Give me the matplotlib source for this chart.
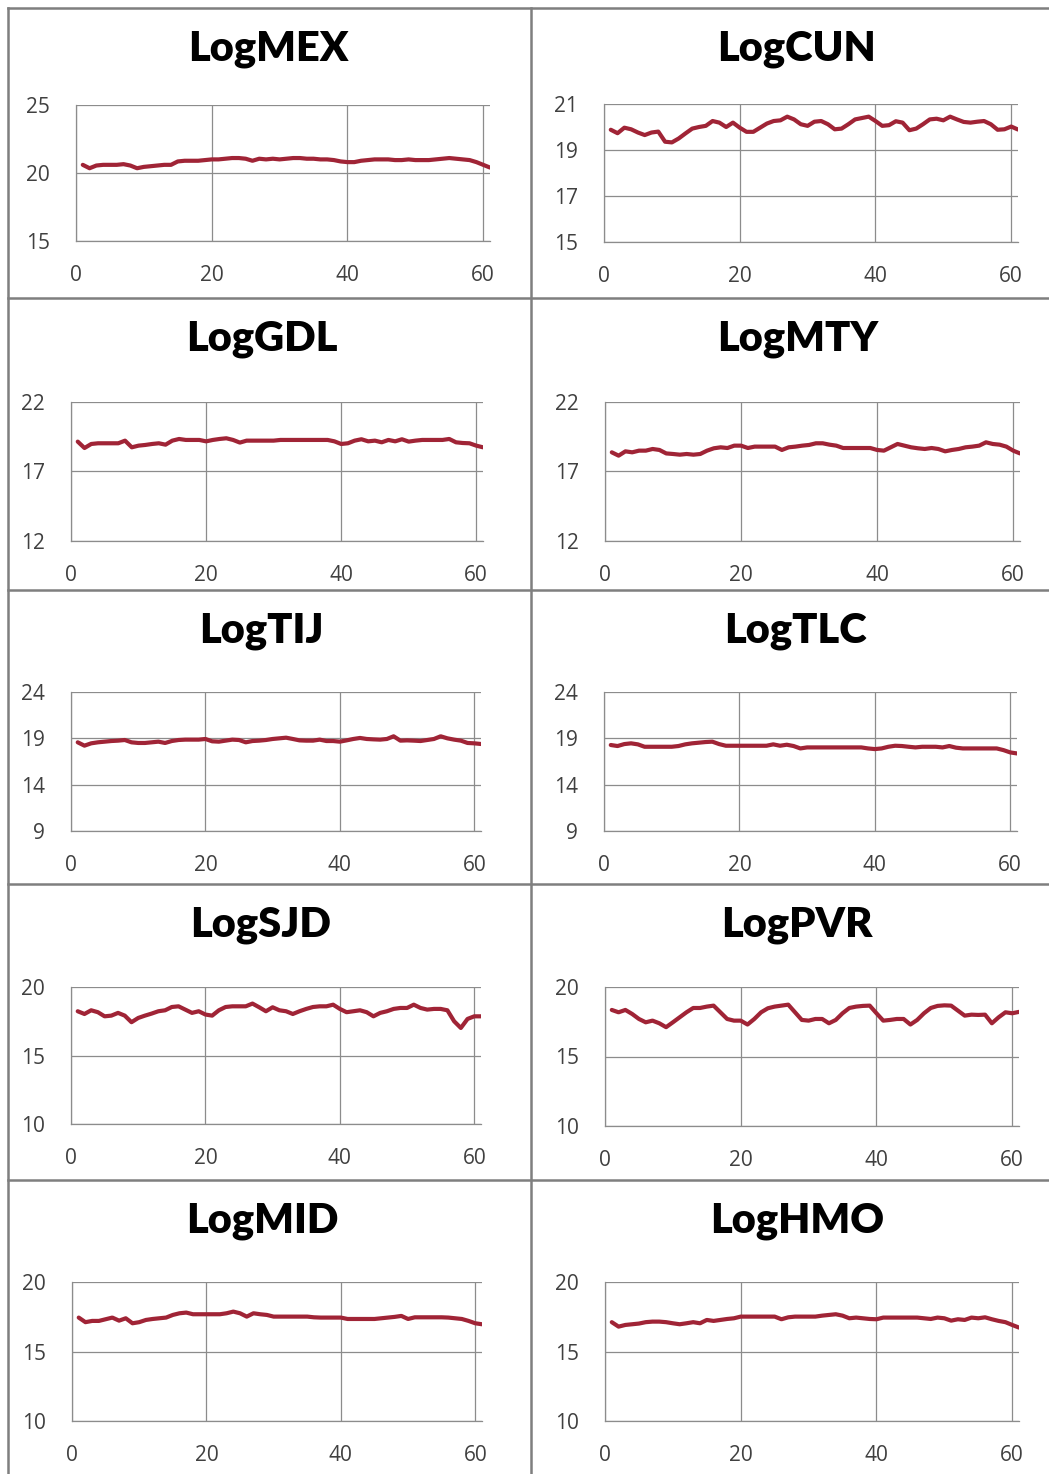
import numpy as np
import matplotlib.pyplot as plt
from matplotlib.lines import Line2D

# time index (1..61) and the ten log series
t = np.arange(1, 62)

log_mex = [20.6, 20.35, 20.55, 20.6, 20.6, 20.6, 20.65, 20.55, 20.35, 20.45,
           20.5, 20.55, 20.6, 20.6, 20.85, 20.9, 20.9, 20.9, 20.95, 21.0,
           21.0, 21.05, 21.1, 21.1, 21.05, 20.9, 21.05, 21.0, 21.05, 21.0,
           21.05, 21.1, 21.1, 21.05, 21.05, 21.0, 21.0, 20.95, 20.85, 20.8,
           20.8, 20.9, 20.95, 21.0, 21.0, 21.0, 20.95, 20.95, 21.0, 20.95,
           20.95, 20.95, 21.0, 21.05, 21.1, 21.05, 21.0, 20.95, 20.8, 20.6, 20.4]

log_cun = [19.88, 19.73, 19.97, 19.9, 19.76, 19.65, 19.76, 19.8, 19.36, 19.33,
           19.5, 19.72, 19.93, 20.0, 20.05, 20.26, 20.19, 20.0, 20.19, 19.97,
           19.79, 19.79, 19.97, 20.15, 20.26, 20.29, 20.45, 20.33, 20.12, 20.05,
           20.23, 20.26, 20.12, 19.9, 19.93, 20.12, 20.33, 20.39, 20.45, 20.26,
           20.05, 20.08, 20.25, 20.19, 19.86, 19.93, 20.12, 20.33, 20.36, 20.29,
           20.45, 20.33, 20.22, 20.19, 20.23, 20.26, 20.12, 19.88, 19.9, 20.02, 19.89]

log_gdl = [19.15, 18.69, 18.98, 19.03, 19.03, 19.03, 19.03, 19.22, 18.74, 18.86,
           18.91, 18.98, 19.03, 18.93, 19.22, 19.34, 19.27, 19.27, 19.27, 19.17,
           19.27, 19.34, 19.39, 19.27, 19.08, 19.22, 19.22, 19.22, 19.22, 19.22,
           19.27, 19.27, 19.27, 19.27, 19.27, 19.27, 19.27, 19.27, 19.17, 18.98,
           19.03, 19.22, 19.32, 19.17, 19.22, 19.10, 19.27, 19.17, 19.32, 19.15,
           19.22, 19.27, 19.27, 19.27, 19.27, 19.34, 19.10, 19.05, 19.03, 18.86, 18.74]

log_mty = [18.38, 18.14, 18.45, 18.38, 18.50, 18.50, 18.62, 18.55, 18.30, 18.26,
           18.21, 18.26, 18.21, 18.26, 18.50, 18.67, 18.74, 18.69, 18.86, 18.86,
           18.69, 18.79, 18.79, 18.79, 18.79, 18.55, 18.74, 18.79, 18.86, 18.91,
           19.03, 19.03, 18.93, 18.86, 18.69, 18.69, 18.69, 18.69, 18.69, 18.55,
           18.50, 18.74, 18.98, 18.86, 18.74, 18.67, 18.62, 18.69, 18.62, 18.45,
           18.55, 18.62, 18.74, 18.79, 18.86, 19.10, 18.98, 18.93, 18.79, 18.50, 18.30]

log_tij = [18.57, 18.21, 18.46, 18.57, 18.64, 18.71, 18.75, 18.82, 18.57, 18.50,
           18.50, 18.57, 18.64, 18.50, 18.71, 18.82, 18.86, 18.86, 18.86, 18.93,
           18.68, 18.64, 18.75, 18.86, 18.82, 18.57, 18.71, 18.75, 18.82, 18.93,
           19.00, 19.07, 18.93, 18.78, 18.75, 18.75, 18.86, 18.71, 18.71, 18.64,
           18.78, 18.93, 19.04, 18.93, 18.89, 18.86, 18.93, 19.22, 18.75, 18.78,
           18.75, 18.71, 18.82, 18.93, 19.22, 19.00, 18.86, 18.75, 18.50, 18.46, 18.39]

log_tlc = [18.28, 18.17, 18.38, 18.46, 18.35, 18.09, 18.09, 18.09, 18.09, 18.09,
           18.17, 18.35, 18.46, 18.53, 18.60, 18.64, 18.38, 18.20, 18.20, 18.20,
           18.20, 18.20, 18.20, 18.20, 18.35, 18.20, 18.31, 18.17, 17.91, 18.02,
           18.02, 18.02, 18.02, 18.02, 18.02, 18.02, 18.02, 18.02, 17.91, 17.84,
           17.91, 18.09, 18.20, 18.17, 18.09, 18.02, 18.09, 18.09, 18.09, 18.02,
           18.17, 17.99, 17.91, 17.91, 17.91, 17.91, 17.91, 17.91, 17.73, 17.48, 17.37]

log_sjd = [18.23, 18.03, 18.30, 18.16, 17.86, 17.91, 18.11, 17.91, 17.43, 17.74,
           17.91, 18.06, 18.23, 18.30, 18.54, 18.59, 18.35, 18.11, 18.23, 17.99,
           17.91, 18.30, 18.54, 18.59, 18.59, 18.59, 18.79, 18.52, 18.23, 18.52,
           18.30, 18.23, 18.03, 18.23, 18.40, 18.54, 18.59, 18.59, 18.71, 18.40,
           18.16, 18.23, 18.30, 18.16, 17.86, 18.11, 18.23, 18.40, 18.47, 18.47,
           18.71, 18.47, 18.35, 18.40, 18.40, 18.30, 17.50, 17.01, 17.67, 17.86, 17.86]

log_pvr = [18.35, 18.18, 18.35, 18.06, 17.70, 17.46, 17.58, 17.39, 17.11, 17.46,
           17.82, 18.18, 18.49, 18.49, 18.59, 18.66, 18.18, 17.70, 17.58, 17.58,
           17.30, 17.70, 18.18, 18.47, 18.59, 18.66, 18.73, 18.18, 17.63, 17.58,
           17.70, 17.70, 17.39, 17.63, 18.11, 18.49, 18.59, 18.64, 18.66, 18.11,
           17.58, 17.63, 17.70, 17.70, 17.30, 17.63, 18.11, 18.49, 18.64, 18.68,
           18.66, 18.30, 17.94, 18.01, 17.99, 18.01, 17.39, 17.82, 18.18, 18.11, 18.21]

log_mid = [17.44, 17.11, 17.20, 17.20, 17.32, 17.44, 17.22, 17.39, 17.03, 17.11,
           17.27, 17.34, 17.39, 17.44, 17.63, 17.75, 17.80, 17.68, 17.68, 17.68,
           17.68, 17.68, 17.75, 17.87, 17.75, 17.51, 17.75, 17.68, 17.63, 17.51,
           17.51, 17.51, 17.51, 17.51, 17.51, 17.46, 17.44, 17.44, 17.44, 17.44,
           17.34, 17.34, 17.34, 17.34, 17.34, 17.39, 17.44, 17.49, 17.56, 17.34,
           17.46, 17.46, 17.46, 17.46, 17.46, 17.44, 17.39, 17.34, 17.20, 17.03, 16.96]

log_hmo = [17.11, 16.79, 16.91, 16.96, 17.01, 17.11, 17.15, 17.15, 17.11, 17.03,
           16.96, 17.03, 17.11, 17.03, 17.27, 17.20, 17.27, 17.34, 17.39, 17.51,
           17.51, 17.51, 17.51, 17.51, 17.51, 17.32, 17.46, 17.51, 17.51, 17.51,
           17.51, 17.58, 17.63, 17.68, 17.58, 17.39, 17.44, 17.39, 17.34, 17.32,
           17.44, 17.44, 17.44, 17.44, 17.44, 17.44, 17.39, 17.34, 17.44, 17.39,
           17.22, 17.32, 17.27, 17.44, 17.39, 17.46, 17.32, 17.20, 17.11, 16.91, 16.72]

titles = ['LogMEX', 'LogCUN', 'LogGDL', 'LogMTY', 'LogTIJ',
          'LogTLC', 'LogSJD', 'LogPVR', 'LogMID', 'LogHMO']
series = [log_mex, log_cun, log_gdl, log_mty, log_tij,
          log_tlc, log_sjd, log_pvr, log_mid, log_hmo]
yticks = [[15, 20, 25], [15, 17, 19, 21], [12, 17, 22], [12, 17, 22],
          [9, 14, 19, 24], [9, 14, 19, 24], [10, 15, 20], [10, 15, 20],
          [10, 15, 20], [10, 15, 20]]
xticks = [0, 20, 40, 60]

W, H = 1049, 1474
fig = plt.figure(figsize=(W / 100, H / 100), dpi=100)
fig.patch.set_facecolor('white')

# axes boxes in pixels: left, top, right, bottom
boxes = [(76, 105, 490, 241), (604, 104, 1018, 242),
         (71, 402, 483, 541), (605, 402, 1020, 541),
         (71, 692, 481, 831), (604, 692, 1017, 831),
         (71, 987, 481, 1124), (605, 987, 1019, 1126),
         (72, 1282, 482, 1421), (605, 1282, 1019, 1421)]
panel_tops = [8, 8, 298, 298, 590, 590, 884, 884, 1180, 1180]

line_col = '#A02436'
grid_col = '#8c8c8c'
tick_col = '#404040'

for i in range(10):
    l, tp, r, b = boxes[i]
    ax = fig.add_axes([l / W, 1 - b / H, (r - l) / W, (b - tp) / H])
    ax.plot(t, series[i], color=line_col, lw=3.0, solid_joinstyle='round',
            solid_capstyle='round')
    ax.set_xlim(0, 61)
    ax.set_ylim(yticks[i][0], yticks[i][-1])
    ax.set_xticks(xticks)
    ax.set_yticks(yticks[i])
    ax.grid(True, color=grid_col, lw=0.9)
    ax.set_axisbelow(True)
    for s in ['top', 'right']:
        ax.spines[s].set_visible(False)
    for s in ['left', 'bottom']:
        ax.spines[s].set_color(grid_col)
        ax.spines[s].set_linewidth(0.9)
    ax.tick_params(length=0, colors=tick_col, labelsize=15)
    ax.tick_params(axis='x', pad=17)
    ax.tick_params(axis='y', pad=19)
    for lab in ax.get_xticklabels() + ax.get_yticklabels():
        lab.set_family('Open Sans')
    cx = (l + r) / 2 - 15
    fig.text(cx / W, 1 - (panel_tops[i] + 41) / H, titles[i],
             ha='center', va='center', fontsize=30, fontweight='heavy',
             family='Lato')

# panel frame lines
frame_col = '#7f7f7f'
fig.add_artist(Line2D([8 / W, 1], [1 - 8 / H, 1 - 8 / H], color=frame_col, lw=1.8))
fig.add_artist(Line2D([8 / W, 8 / W], [0, 1 - 8 / H], color=frame_col, lw=1.8))
fig.add_artist(Line2D([531 / W, 531 / W], [0, 1 - 8 / H], color=frame_col, lw=1.8))
for y in [298, 590, 884, 1180]:
    fig.add_artist(Line2D([8 / W, 1], [1 - y / H, 1 - y / H], color=frame_col, lw=1.8))

fig.savefig('out.png', dpi=100)
